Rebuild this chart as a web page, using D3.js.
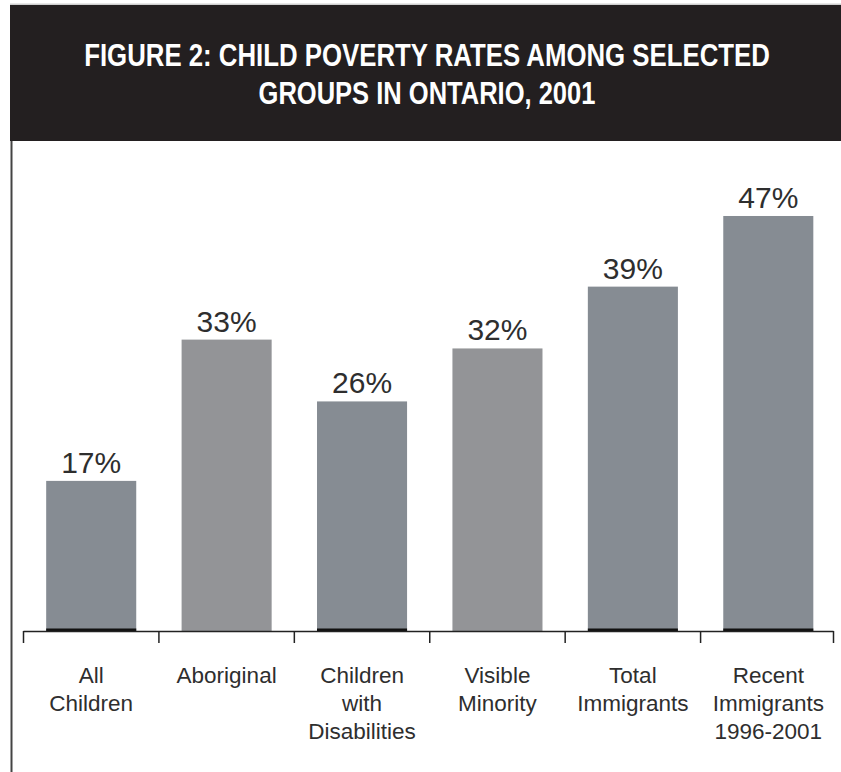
<!DOCTYPE html>
<html>
<head>
<meta charset="utf-8">
<script src="https://cdn.jsdelivr.net/npm/d3@7"></script>
<style>
  html, body { margin: 0; padding: 0; background: #fff; }
  svg { display: block; }
</style>
</head>
<body>
<svg id="chart" width="841" height="772"></svg>
<script>
// Child poverty rates among selected groups in Ontario, 2001
const categories = [
  ["All", "Children"],
  ["Aboriginal"],
  ["Children", "with", "Disabilities"],
  ["Visible", "Minority"],
  ["Total", "Immigrants"],
  ["Recent", "Immigrants", "1996-2001"]
];
const rates = [17, 33, 26, 32, 39, 47];
const titleLines = [
  "FIGURE 2: CHILD POVERTY RATES AMONG SELECTED",
  "GROUPS IN ONTARIO, 2001"
];

// two gray shades used for the bars
const barFills = ["#868c93", "#939497", "#868c93", "#939497", "#868c93", "#868c93"];

const svg = d3.select("#chart");
const W = 841, H = 772;
const baseY = 631;

// header band
svg.append("rect")
  .attr("x", 10).attr("y", 3.5).attr("width", W - 10).attr("height", 1.5)
  .attr("fill", "#cfcfcf");
svg.append("rect")
  .attr("x", 10).attr("y", 5).attr("width", W - 10).attr("height", 136)
  .attr("fill", "#231f20");

// condensed bold title: each line is squeezed horizontally around its centre
const titleWidths = [686, 337];
const titleCx = 427;
titleLines.forEach((line, i) => {
  const g = svg.append("g");
  const t = g.append("text")
    .attr("x", 0)
    .attr("y", 0)
    .attr("text-anchor", "middle")
    .attr("font-family", "Liberation Sans, Arial, sans-serif")
    .attr("font-weight", "bold")
    .attr("font-size", 31)
    .attr("fill", "#ffffff")
    .text(line);
  const natural = t.node().getComputedTextLength();
  const k = titleWidths[i] / natural;
  g.attr("transform", `translate(${titleCx},${66 + i * 38}) scale(${k},1)`);
});

// left frame rule
svg.append("line")
  .attr("x1", 11.5).attr("x2", 11.5)
  .attr("y1", 141).attr("y2", H)
  .attr("stroke", "#444").attr("stroke-width", 2);

// scales
const x = d3.scaleBand()
  .domain(d3.range(categories.length))
  .range([23.5, 836])
  .paddingInner(0.335)
  .paddingOuter(0.1675);

const y = d3.scaleLinear()
  .domain([0, 50])
  .range([baseY, baseY - 50 * 8.83]);

// bars
svg.append("g").selectAll("rect")
  .data(rates)
  .join("rect")
  .attr("x", (d, i) => x(i))
  .attr("y", d => y(d))
  .attr("width", x.bandwidth())
  .attr("height", d => y(0) - y(d))
  .attr("fill", (d, i) => barFills[i]);

// dark foot on the blue-gray bars
svg.append("g").selectAll("rect")
  .data(rates.map((d, i) => i).filter(i => barFills[i] === "#868c93"))
  .join("rect")
  .attr("x", i => x(i))
  .attr("y", baseY - 2.5)
  .attr("width", x.bandwidth())
  .attr("height", 2.5)
  .attr("fill", "#111");

// value labels
svg.append("g").selectAll("text")
  .data(rates)
  .join("text")
  .attr("x", (d, i) => x(i) + x.bandwidth() / 2)
  .attr("y", d => y(d) - 8)
  .attr("text-anchor", "middle")
  .attr("font-family", "Liberation Sans, Arial, sans-serif")
  .attr("font-size", 30)
  .attr("fill", "#2e2e2e")
  .text(d => d + "%");

// category axis: baseline with ticks at band boundaries
const axisG = svg.append("g");
const boundaries = d3.range(categories.length + 1).map(i =>
  i < categories.length ? x(i) - x.step() * x.paddingInner() / 2 : 833.5);
axisG.append("line")
  .attr("x1", 23.5).attr("x2", 833.5)
  .attr("y1", baseY + 0.5).attr("y2", baseY + 0.5)
  .attr("stroke", "#222").attr("stroke-width", 1.5);
axisG.selectAll("line.tick")
  .data(boundaries)
  .join("line")
  .attr("class", "tick")
  .attr("x1", d => d).attr("x2", d => d)
  .attr("y1", baseY).attr("y2", baseY + 12)
  .attr("stroke", "#222").attr("stroke-width", 1.5);

// category labels
const lab = svg.append("g").selectAll("text")
  .data(categories)
  .join("text")
  .attr("x", (d, i) => x(i) + x.bandwidth() / 2)
  .attr("y", 683)
  .attr("text-anchor", "middle")
  .attr("font-family", "Liberation Sans, Arial, sans-serif")
  .attr("font-size", 22.5)
  .attr("fill", "#2e2e2e");
lab.each(function(lines) {
  const t = d3.select(this);
  const cx = t.attr("x");
  lines.forEach((s, k) => {
    t.append("tspan").attr("x", cx).attr("dy", k === 0 ? 0 : 28).text(s);
  });
});
</script>
</body>
</html>
